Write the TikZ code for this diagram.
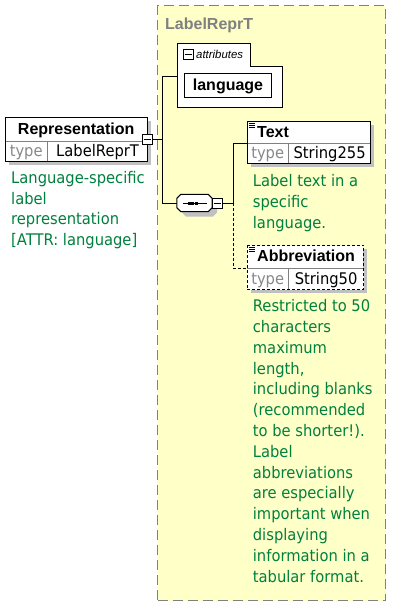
\documentclass[tikz,border=0pt]{standalone}
\usepackage{fontspec}
\setmainfont{DejaVu Sans}[FakeStretch=0.92]
\newfontfamily\namefont{Liberation Sans}

\begin{document}
\begin{tikzpicture}[x=1pt, y=-1pt, cplxbox/.style={draw=xsFrame, fill=xsYellow, line width=1.2pt, dash pattern=on 10pt off 5pt, inner sep=0pt}, cplxname/.style={font=\namefont\fontsize{16}{18}\selectfont\bfseries, text=xsFrame, inner sep=0pt}, frame/.style={draw=black, line width=1pt}, dashframe/.style={frame, dash pattern=on 3pt off 2pt}, divider/.style={draw=xsGray, line width=1pt}, shade/.style={fill=xsShadow}, head/.style={fill=white, inner sep=0pt, minimum height=#1, text height=12pt, text depth=2pt, font=\namefont\fontsize{16}{18}\selectfont\bfseries}, cell/.style={fill=white, inner sep=0pt, minimum height=#1, text height=12pt, text depth=2pt, font=\fontsize{16}{18}\selectfont}, keycell/.style={cell=#1, text=xsKey}, expander/.style={draw, fill=white, line width=1pt, minimum size=10pt, inner sep=0pt, path picture={\draw[line width=1pt] ([xshift=1.5pt]path picture bounding box.west) -- ([xshift=-1.5pt]path picture bounding box.east);}}, wire/.style={line width=1pt}, optwire/.style={line width=1pt, dash pattern=on 3pt off 2pt}, doc/.style={font=\fontsize{16}{20.8}\selectfont, text=xsGreen, align=left, inner sep=0pt, anchor=base west}]
\definecolor{xsYellow}{RGB}{255,255,200}
\definecolor{xsFrame}{RGB}{128,128,128}
\definecolor{xsGray}{RGB}{128,128,128}
\definecolor{xsKey}{RGB}{136,136,136}
\definecolor{xsShadow}{RGB}{192,192,192}
\definecolor{xsGreen}{RGB}{0,128,64}
\fill[white] (0,0) rectangle (404,606);
\useasboundingbox (0,0) rectangle (404,606);
% complex type
\node[cplxbox, minimum width=228pt, minimum height=595pt, anchor=north west] (cplx) at (157,5) {};
\node[cplxname, anchor=base west] (cplxtitle) at (165,29) {LabelReprT};
% shadows
\fill[shade] (9,121) rectangle (151,165);
\fill[shade] (188,77) rectangle (275,101);
\fill[shade] (251,125) rectangle (374,167);
\fill[shade] (251,249) rectangle (367,293);
\fill[shade] (186,199.5) -- (213,199.5) -- (217,203.5) -- (217,212.5) -- (213,216.5) -- (186,216.5) -- (182,212.5) -- (182,203.5) -- cycle;
% attributes
\draw[frame, fill=white] (177,43) -- (250,43) -- (250,66) -- (282,66) -- (282,107) -- (177,107) -- cycle;
\node[expander] (attrsign) at (188,54) {};
\node[font=\namefont\itshape\fontsize{11.4}{13}\selectfont, inner sep=0pt, anchor=west] (attrtitle) at (196,54) {attributes};
\node[head=24pt, frame, minimum width=87pt, anchor=north west] (lang) at (184,73) {language};
% Representation
\node[head=24pt, minimum width=142pt, anchor=north west] (repr) at (5,117) {Representation};
\node[keycell=20pt, minimum width=42pt, anchor=north west] (reprkey) at (repr.south west) {type};
\node[cell=20pt, minimum width=100pt, anchor=north west] (reprval) at (reprkey.north east) {LabelReprT};
\draw[divider] (repr.south west) -- (repr.south east);
\draw[divider] (reprkey.north east) -- (reprkey.south east);
\draw[frame] (repr.north west) rectangle (reprval.south east);
\node[expander] (reprplus) at (147,139) {};
\node[doc] (reprdoc) at (11,245.7) {Language-specific\\label\\representation\\ {[ATTR: language]}};
% sequence
\node[minimum width=35pt, minimum height=17pt, inner sep=0pt] (seq) at (194.5,203) {};
\draw[frame, fill=white] ([xshift=4pt]seq.north west) -- ([xshift=-4pt]seq.north east) -- ([yshift=-4pt]seq.north east) -- ([yshift=4pt]seq.south east) -- ([xshift=-4pt]seq.south east) -- ([xshift=4pt]seq.south west) -- ([yshift=4pt]seq.south west) -- ([yshift=-4pt]seq.north west) -- cycle;
\draw[wire] ([xshift=6pt]seq.west) -- ([xshift=-5pt]seq.east);
\foreach \dx in {-5.5,-2,1.5} \fill ([xshift=\dx pt]seq.center) ++(-1.5,-1.5) rectangle ++(3,3);
\node[expander] (seqplus) at (217,203) {};
% Text
\node[head=22pt, minimum width=123pt, text width=103pt, inner xsep=10pt, align=left, anchor=north west] (txt) at (247,121) {Text};
\node[keycell=20pt, minimum width=41pt, anchor=north west] (txtkey) at (txt.south west) {type};
\node[cell=20pt, minimum width=82pt, anchor=north west] (txtval) at (txtkey.north east) {String255};
\draw[divider] (txt.south west) -- (txt.south east);
\draw[divider] (txtkey.north east) -- (txtkey.south east);
\draw[frame] (txt.north west) rectangle (txtval.south east);
\foreach \dy in {2,4,6} \draw[line width=0.8pt] ([shift={(2,\dy)}]txt.north west) -- ++(6,0);
\node[doc] (txtdoc) at (252.7,228.3) {Label text in a\\specific\\language.};
% Abbreviation
\node[head=23pt, minimum width=116pt, text width=96pt, inner xsep=10pt, align=left, anchor=north west] (abbr) at (247,245) {Abbreviation};
\node[keycell=21pt, minimum width=41pt, anchor=north west] (abbrkey) at (abbr.south west) {type};
\node[cell=21pt, minimum width=75pt, anchor=north west] (abbrval) at (abbrkey.north east) {String50};
\draw[divider] (abbr.south west) -- (abbr.south east);
\draw[divider] (abbrkey.north east) -- (abbrkey.south east);
\draw[dashframe] (abbr.north west) rectangle (abbrval.south east);
\foreach \dy in {2,4,6} \draw[line width=0.8pt] ([shift={(2,\dy)}]abbr.north west) -- ++(6,0);
\node[doc] (abbrdoc) at (252.7,582.1) {Restricted to 50\\characters\\maximum\\length,\\including blanks\\(recommended\\to be shorter!).\\Label\\abbreviations\\are especially\\important when\\displaying\\information in a\\tabular format.};
% connectors
\draw[wire] (reprplus.east) -- ++(10,0) coordinate (trunk);
\coordinate (attrin) at (177,76);
\draw[wire] (attrin) -| (trunk) |- (seq.west);
\draw[wire] (seqplus.east) -- ++(11,0) coordinate (fork);
\draw[wire] (fork) |- (txt.south west);
\draw[optwire] (fork) |- (abbr.south west);
\end{tikzpicture}
\end{document}
